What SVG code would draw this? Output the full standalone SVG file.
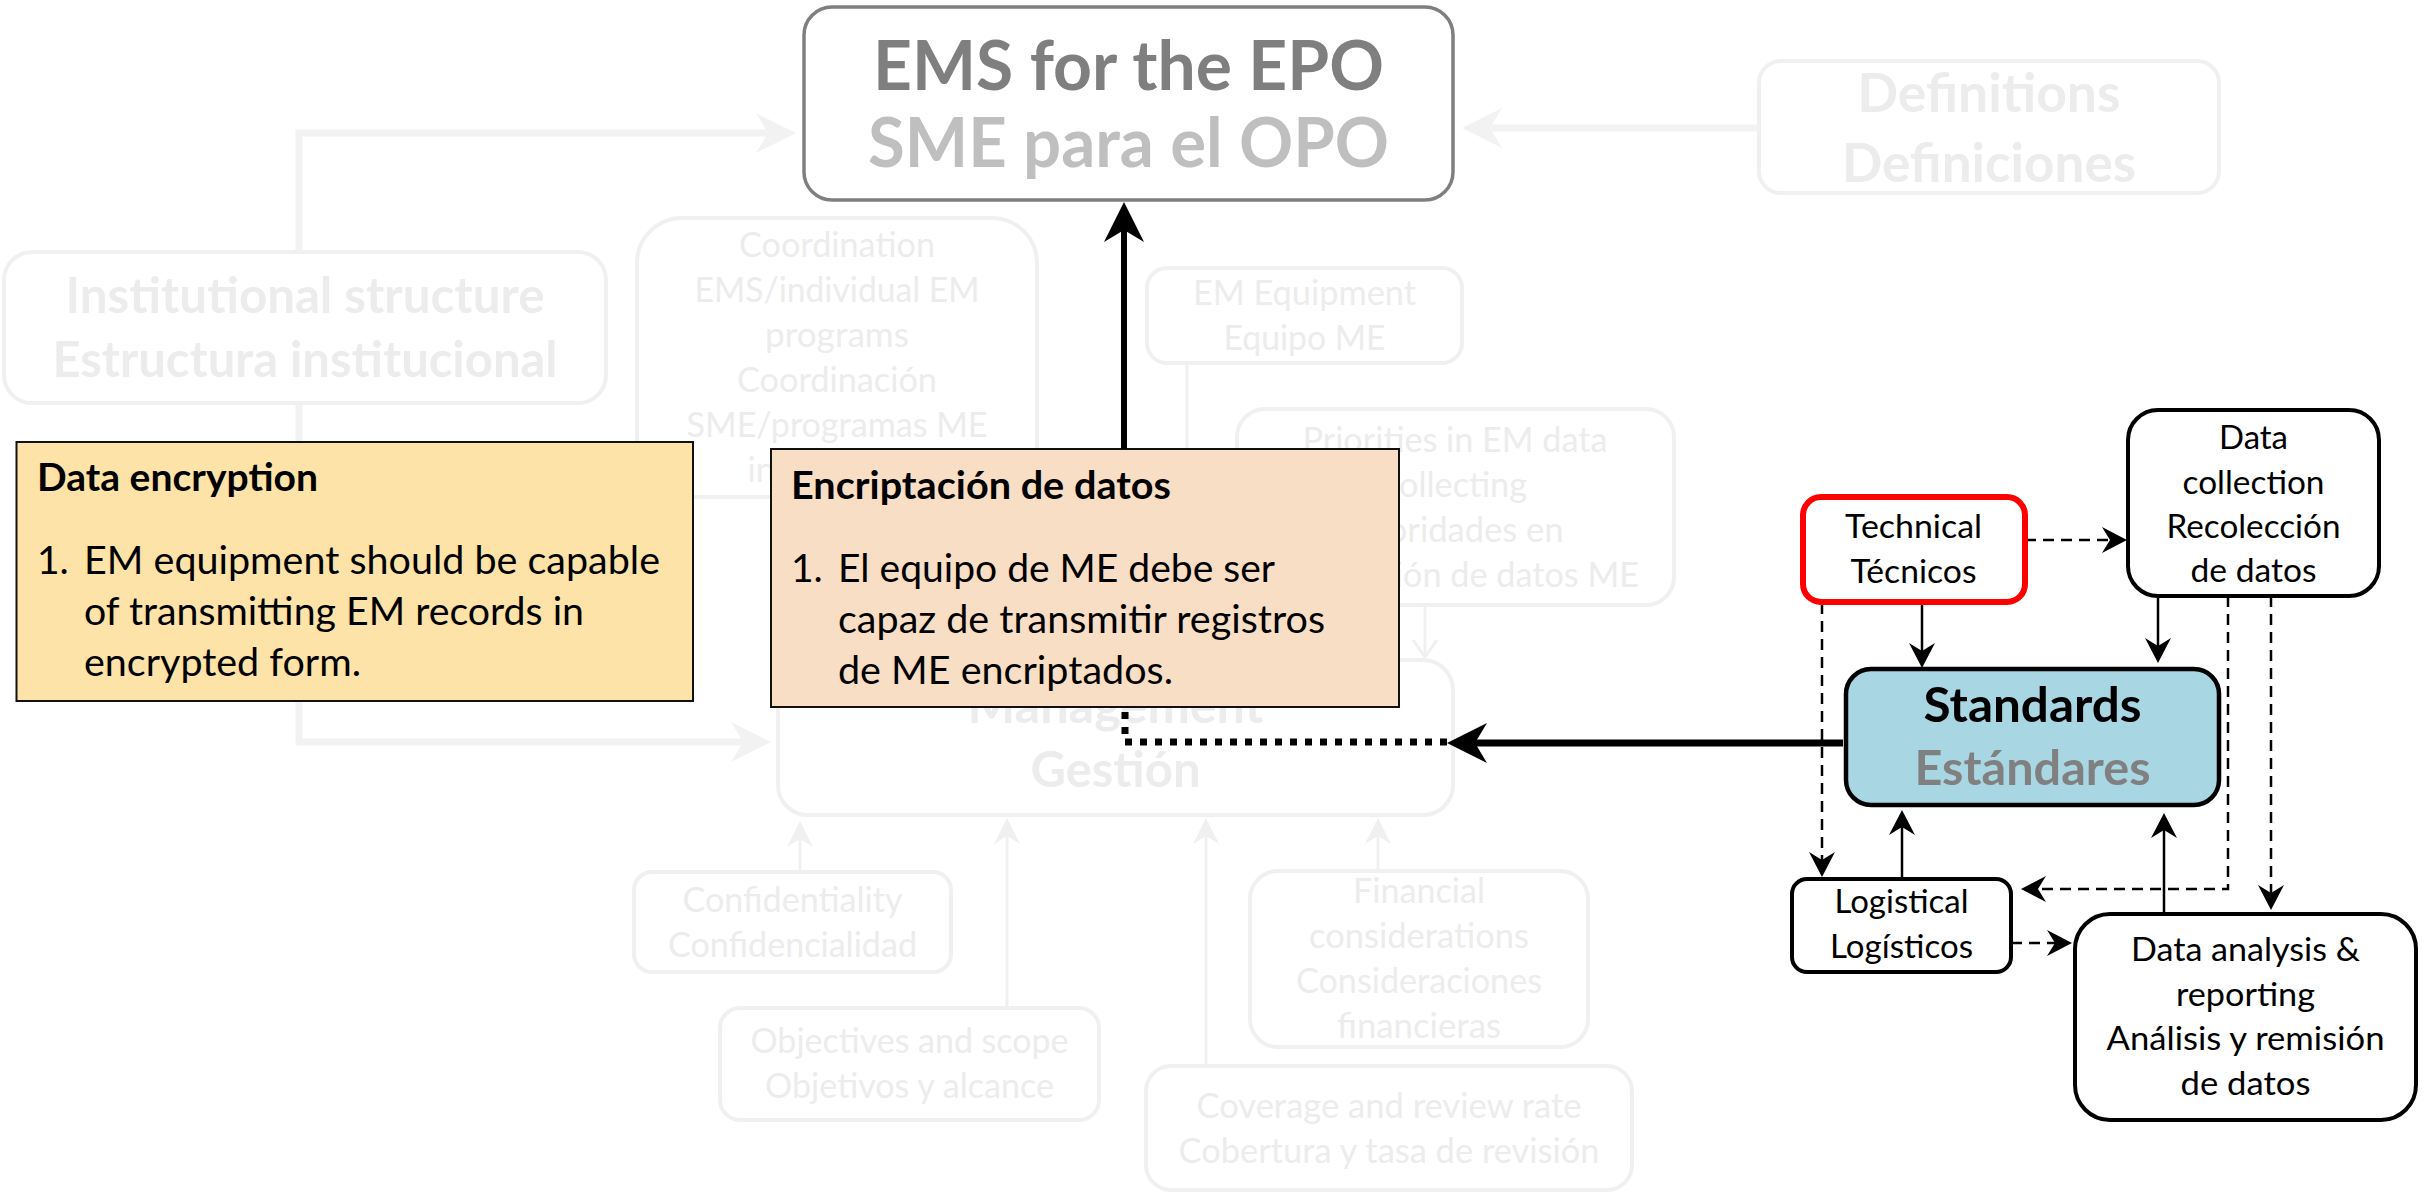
<svg xmlns="http://www.w3.org/2000/svg" width="2430" height="1192" viewBox="0 0 2430 1192">
<style>
text{font-family:Lato,"Liberation Sans",sans-serif}
.b{font-weight:bold}
.c{text-anchor:middle}
.gt{fill:#ececec;font-size:34px}
.gbox{fill:#fff;stroke:#f0f0f0;stroke-width:4}
.gl{fill:none;stroke:#f2f2f2;stroke-width:7}
.gs{fill:none;stroke:#f0f0f0;stroke-width:3}
.kl{fill:none;stroke:#000;stroke-width:2.5}
.kd{fill:none;stroke:#000;stroke-width:2.5;stroke-dasharray:11 7}
.kbox{fill:#fff;stroke:#000;stroke-width:4}
.kt{fill:#000;font-size:33px}
.nt{fill:#000;font-size:39px}
</style>
<defs>
<marker id="bkL" viewBox="-12 -20 40 40" refX="0" refY="0" markerWidth="40" markerHeight="40" markerUnits="userSpaceOnUse" orient="auto" overflow="visible"><path d="M28,0 L-12,-20 L0,0 L-12,20 Z" fill="#000"/></marker>
<marker id="bkS" viewBox="-8 -13 25 26" refX="0" refY="0" markerWidth="25" markerHeight="26" markerUnits="userSpaceOnUse" orient="auto" overflow="visible"><path d="M17,0 L-8,-13 L0,0 L-8,13 Z" fill="#000"/></marker>
<marker id="grL" viewBox="-12 -20 40 40" refX="0" refY="0" markerWidth="40" markerHeight="40" markerUnits="userSpaceOnUse" orient="auto" overflow="visible"><path d="M28,0 L-12,-20 L0,0 L-12,20 Z" fill="#f2f2f2"/></marker>
<marker id="grS" viewBox="-8 -13 26 26" refX="0" refY="0" markerWidth="26" markerHeight="26" markerUnits="userSpaceOnUse" orient="auto" overflow="visible"><path d="M18,0 L-8,-13 L0,0 L-8,13 Z" fill="#f0f0f0"/></marker>
<marker id="grV" viewBox="-20 -15 22 30" refX="0" refY="0" markerWidth="22" markerHeight="30" markerUnits="userSpaceOnUse" orient="auto" overflow="visible"><path d="M-17,-12 L0,0 L-17,12" fill="none" stroke="#f0f0f0" stroke-width="3"/></marker>
</defs>
<rect width="2430" height="1192" fill="#fff"/>

<g id="connectors-background">
<path class="gl" d="M299,252 V133 H768" marker-end="url(#grL)"/>
<path class="gl" d="M299,403 V742 H743" marker-end="url(#grL)"/>
<path class="gl" d="M1759,128 H1490" marker-end="url(#grL)"/>
<path class="gs" d="M1187,363 V642" marker-end="url(#grS)"/>
<path class="gs" d="M1425,605 V657" marker-end="url(#grV)"/>
<path class="gs" d="M800,872 V839" marker-end="url(#grS)"/>
<path class="gs" d="M1007,1008 V836" marker-end="url(#grS)"/>
<path class="gs" d="M1206,1066 V836" marker-end="url(#grS)"/>
<path class="gs" d="M1378,871 V836" marker-end="url(#grS)"/>
</g>

<g id="ems">
<rect x="804" y="7" width="649" height="193" rx="28" fill="#fff" stroke="#7f7f7f" stroke-width="3.5"/>
<text class="b c" x="1128.5" y="90" font-size="69" fill="#7f7f7f" textLength="511" lengthAdjust="spacingAndGlyphs">EMS for the EPO</text>
<text class="b c" x="1128.5" y="167" font-size="69" fill="#bfbfbf" textLength="521" lengthAdjust="spacingAndGlyphs">SME para el OPO</text>
</g>
<g id="definitions">
<rect class="gbox" x="1759" y="61" width="460" height="132" rx="22"/>
<text class="b c" x="1989" y="112" font-size="53" fill="#ececec" textLength="263" lengthAdjust="spacingAndGlyphs">Definitions</text>
<text class="b c" x="1989" y="182" font-size="53" fill="#ececec" textLength="294" lengthAdjust="spacingAndGlyphs">Definiciones</text>
</g>
<g id="institutional">
<rect class="gbox" x="4" y="252" width="602" height="151" rx="28"/>
<text class="b c" x="305" y="313" font-size="49" fill="#ececec" textLength="479" lengthAdjust="spacingAndGlyphs">Institutional structure</text>
<text class="b c" x="305" y="377" font-size="49" fill="#ececec" textLength="505" lengthAdjust="spacingAndGlyphs">Estructura institucional</text>
</g>
<g id="coordination">
<rect class="gbox" x="637" y="218" width="400" height="279" rx="45"/>
<text class="gt c" x="837" y="257" textLength="196" lengthAdjust="spacingAndGlyphs">Coordination</text>
<text class="gt c" x="837" y="302" textLength="285" lengthAdjust="spacingAndGlyphs">EMS/individual EM</text>
<text class="gt c" x="837" y="347" textLength="144" lengthAdjust="spacingAndGlyphs">programs</text>
<text class="gt c" x="837" y="392" textLength="200" lengthAdjust="spacingAndGlyphs">Coordinación</text>
<text class="gt c" x="837" y="437" textLength="301" lengthAdjust="spacingAndGlyphs">SME/programas ME</text>
<text class="gt c" x="837" y="482" textLength="179" lengthAdjust="spacingAndGlyphs">individuales</text>
</g>
<g id="em-equipment">
<rect class="gbox" x="1147" y="268" width="315" height="95" rx="20"/>
<text class="gt c" x="1304.5" y="305" textLength="223" lengthAdjust="spacingAndGlyphs">EM Equipment</text>
<text class="gt c" x="1304.5" y="350" textLength="162" lengthAdjust="spacingAndGlyphs">Equipo ME</text>
</g>
<g id="priorities">
<rect class="gbox" x="1237" y="409" width="437" height="196" rx="28"/>
<text class="gt c" x="1455" y="452" textLength="305" lengthAdjust="spacingAndGlyphs">Priorities in EM data</text>
<text class="gt c" x="1455" y="497" textLength="144" lengthAdjust="spacingAndGlyphs">collecting</text>
<text class="gt c" x="1455" y="542" textLength="217" lengthAdjust="spacingAndGlyphs">Prioridades en</text>
<text class="gt c" x="1455" y="587" textLength="368" lengthAdjust="spacingAndGlyphs">recolección de datos ME</text>
</g>
<g id="management">
<rect class="gbox" x="778" y="660" width="675" height="155" rx="30"/>
<text class="b c" x="1115.5" y="723" font-size="49" fill="#ececec" textLength="296" lengthAdjust="spacingAndGlyphs">Management</text>
<text class="b c" x="1115.5" y="787" font-size="49" fill="#ececec" textLength="170" lengthAdjust="spacingAndGlyphs">Gestión</text>
</g>
<g id="confidentiality">
<rect class="gbox" x="634" y="872" width="317" height="100" rx="18"/>
<text class="gt c" x="792.5" y="912" textLength="220" lengthAdjust="spacingAndGlyphs">Confidentiality</text>
<text class="gt c" x="792.5" y="957" textLength="249" lengthAdjust="spacingAndGlyphs">Confidencialidad</text>
</g>
<g id="objectives">
<rect class="gbox" x="720" y="1008" width="379" height="112" rx="20"/>
<text class="gt c" x="909.5" y="1053" textLength="318" lengthAdjust="spacingAndGlyphs">Objectives and scope</text>
<text class="gt c" x="909.5" y="1098" textLength="289" lengthAdjust="spacingAndGlyphs">Objetivos y alcance</text>
</g>
<g id="financial">
<rect class="gbox" x="1250" y="871" width="338" height="176" rx="28"/>
<text class="gt c" x="1419" y="903" textLength="132" lengthAdjust="spacingAndGlyphs">Financial</text>
<text class="gt c" x="1419" y="948" textLength="220" lengthAdjust="spacingAndGlyphs">considerations</text>
<text class="gt c" x="1419" y="993" textLength="246" lengthAdjust="spacingAndGlyphs">Consideraciones</text>
<text class="gt c" x="1419" y="1038" textLength="164" lengthAdjust="spacingAndGlyphs">financieras</text>
</g>
<g id="coverage">
<rect class="gbox" x="1146" y="1066" width="486" height="124" rx="25"/>
<text class="gt c" x="1389" y="1118" textLength="385" lengthAdjust="spacingAndGlyphs">Coverage and review rate</text>
<text class="gt c" x="1389" y="1163" textLength="421" lengthAdjust="spacingAndGlyphs">Cobertura y tasa de revisión</text>
</g>

<g id="note-data-encryption">
<rect x="16.5" y="442" width="676.5" height="259" fill="#fde3a8" stroke="#111" stroke-width="2"/>
<text class="nt b" x="37" y="491" textLength="281" lengthAdjust="spacingAndGlyphs">Data encryption</text>
<text class="nt" x="37" y="574">1.</text>
<text class="nt" x="84" y="574" textLength="576" lengthAdjust="spacingAndGlyphs">EM equipment should be capable</text>
<text class="nt" x="84" y="625" textLength="500" lengthAdjust="spacingAndGlyphs">of transmitting EM records in</text>
<text class="nt" x="84" y="676" textLength="277" lengthAdjust="spacingAndGlyphs">encrypted form.</text>
</g>
<g id="note-encriptacion">
<rect x="771" y="449" width="628" height="258" fill="#f8dec5" stroke="#111" stroke-width="2"/>
<text class="nt b" x="791" y="499" textLength="380" lengthAdjust="spacingAndGlyphs">Encriptación de datos</text>
<text class="nt" x="791" y="582">1.</text>
<text class="nt" x="838" y="582" textLength="437" lengthAdjust="spacingAndGlyphs">El equipo de ME debe ser</text>
<text class="nt" x="838" y="633" textLength="487" lengthAdjust="spacingAndGlyphs">capaz de transmitir registros</text>
<text class="nt" x="838" y="684" textLength="335" lengthAdjust="spacingAndGlyphs">de ME encriptados.</text>
</g>

<g id="connectors">
<path d="M1124,449 V230" fill="none" stroke="#000" stroke-width="6" marker-end="url(#bkL)"/>
<path d="M1843,743 H1475" fill="none" stroke="#000" stroke-width="7" marker-end="url(#bkL)"/>
<path d="M1447,742 H1125 V707" fill="none" stroke="#000" stroke-width="7" stroke-dasharray="7 8"/>
<path class="kd" d="M2025,540 H2110" marker-end="url(#bkS)"/>
<path class="kl" d="M1922,602 V651" marker-end="url(#bkS)"/>
<path class="kl" d="M2158,596 V646" marker-end="url(#bkS)"/>
<path class="kd" d="M1822,603 V860" marker-end="url(#bkS)"/>
<path class="kd" d="M2228,596 V889 H2038" marker-end="url(#bkS)"/>
<path class="kd" d="M2271,596 V893" marker-end="url(#bkS)"/>
<path class="kl" d="M1902,878 V827" marker-end="url(#bkS)"/>
<path class="kl" d="M2164,913 V830" marker-end="url(#bkS)"/>
<path class="kd" d="M2011,943 H2055" marker-end="url(#bkS)"/>
</g>

<g id="technical">
<rect x="1803" y="497" width="222" height="105" rx="18" fill="#fff" stroke="#ff0000" stroke-width="6"/>
<text class="kt c" x="1913.5" y="538" textLength="137" lengthAdjust="spacingAndGlyphs">Technical</text>
<text class="kt c" x="1913.5" y="583" textLength="126" lengthAdjust="spacingAndGlyphs">Técnicos</text>
</g>
<g id="data-collection">
<rect class="kbox" x="2128" y="410" width="251" height="186" rx="30"/>
<text class="kt c" x="2253.5" y="449" textLength="69" lengthAdjust="spacingAndGlyphs">Data</text>
<text class="kt c" x="2253.5" y="494" textLength="142" lengthAdjust="spacingAndGlyphs">collection</text>
<text class="kt c" x="2253.5" y="538" textLength="174" lengthAdjust="spacingAndGlyphs">Recolección</text>
<text class="kt c" x="2253.5" y="582" textLength="126" lengthAdjust="spacingAndGlyphs">de datos</text>
</g>
<g id="standards">
<rect x="1846" y="669" width="373" height="136" rx="25" fill="#a9d6e3" stroke="#000" stroke-width="4.5"/>
<text class="b c" x="2032.5" y="722" font-size="48" fill="#000" textLength="218" lengthAdjust="spacingAndGlyphs">Standards</text>
<text class="b c" x="2032.5" y="785" font-size="48" fill="#808080" textLength="236" lengthAdjust="spacingAndGlyphs">Estándares</text>
</g>
<g id="logistical">
<rect class="kbox" x="1792" y="879" width="219" height="93" rx="15"/>
<text class="kt c" x="1901.5" y="913" textLength="134" lengthAdjust="spacingAndGlyphs">Logistical</text>
<text class="kt c" x="1901.5" y="958" textLength="143" lengthAdjust="spacingAndGlyphs">Logísticos</text>
</g>
<g id="data-analysis">
<rect class="kbox" x="2075" y="914" width="341" height="206" rx="35"/>
<text class="kt c" x="2245.5" y="961" font-size="34" textLength="229" lengthAdjust="spacingAndGlyphs">Data analysis &amp;</text>
<text class="kt c" x="2245.5" y="1006" font-size="34" textLength="139" lengthAdjust="spacingAndGlyphs">reporting</text>
<text class="kt c" x="2245.5" y="1050" font-size="34" textLength="278" lengthAdjust="spacingAndGlyphs">Análisis y remisión</text>
<text class="kt c" x="2245.5" y="1095" font-size="34" textLength="130" lengthAdjust="spacingAndGlyphs">de datos</text>
</g>
</svg>
